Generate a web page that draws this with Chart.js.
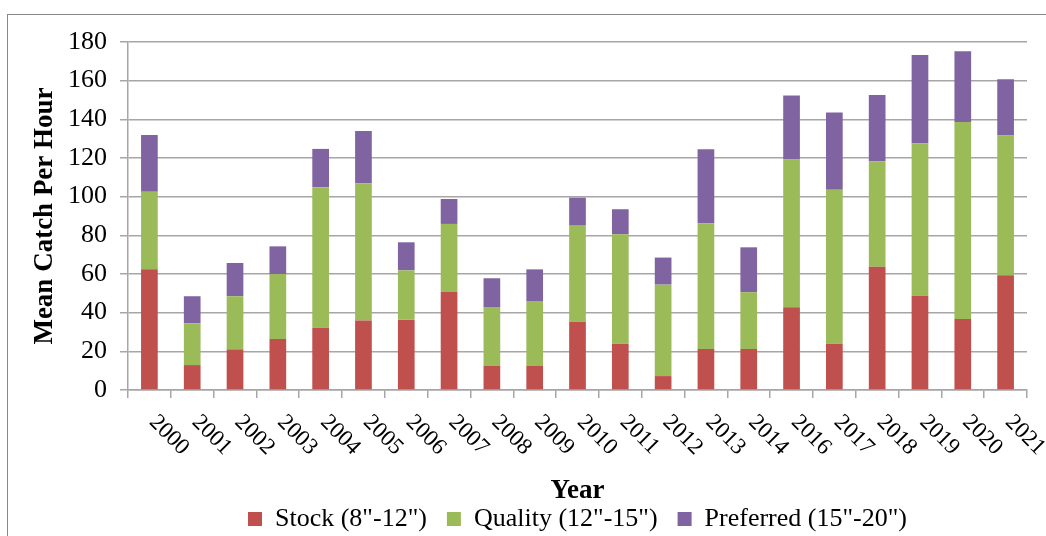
<!DOCTYPE html>
<html>
<head>
<meta charset="utf-8">
<script src="https://cdn.jsdelivr.net/npm/chart.js@4.4.1/dist/chart.umd.min.js"></script>
<style>
  body { margin: 0; background: #fff; }
  #wrap { position: relative; width: 1046px; height: 536px; overflow: hidden; }
  #frame { position: absolute; left: 7px; top: 14px; width: 1100px; height: 600px; border: 1px solid #898989; }
  #myBarChart { position: absolute; left: 0; top: 0; }
</style>
</head>
<body>
<div id="wrap">
  <div id="frame"></div>
  <canvas id="myBarChart" width="1046" height="536"></canvas>
</div>
<script>
var years = ['2000','2001','2002','2003','2004','2005','2006','2007','2008','2009','2010',
             '2011','2012','2013','2014','2016','2017','2018','2019','2020','2021'];

// valores (captura por hora)
var stock = [62.4, 12.9, 21.0, 26.4, 32.2, 35.9, 36.4, 50.7, 12.4, 12.4, 35.3,
             24.0, 7.2, 21.2, 21.2, 42.8, 24.0, 63.8, 48.8, 36.7, 59.3];
var quality = [40.2, 21.6, 27.5, 33.6, 72.6, 71.0, 25.5, 35.2, 30.5, 33.6, 49.7,
               56.5, 47.3, 65.0, 29.3, 76.4, 79.6, 54.5, 78.8, 101.9, 72.4];
var preferred = [29.3, 14.0, 17.2, 14.3, 19.9, 27.1, 14.5, 12.9, 14.9, 16.4, 14.5,
                 13.0, 14.0, 38.3, 23.3, 33.1, 39.9, 34.3, 45.7, 36.6, 29.0];

var seriesNames = ['Stock (8"-12")', 'Quality (12"-15")', 'Preferred (15"-20")'];
var yTicks = [0, 20, 40, 60, 80, 100, 120, 140, 160, 180];

var fuente = 'Liberation Serif';
var gris = '#a6a6a6';

// etiquetas del eje X giradas 45 grados hacia abajo
var yearLabels = {
  id: 'yearLabels',
  afterDraw: function (chart) {
    var ctx = chart.ctx;
    var xs = chart.scales.x;
    ctx.save();
    ctx.font = '23px "' + fuente + '"';
    ctx.fillStyle = '#000';
    ctx.textAlign = 'left';
    ctx.textBaseline = 'alphabetic';
    years.forEach(function (y, i) {
      var x = xs.getPixelForValue(i);
      ctx.save();
      ctx.translate(x - 1, xs.top + 33);
      ctx.rotate(Math.PI / 4);
      ctx.fillText(y, 0, 0);
      ctx.restore();
    });
    ctx.restore();
  }
};

var ctx = document.getElementById('myBarChart').getContext('2d');
var myBarChart = new Chart(ctx, {
  type: 'bar',
  data: {
    labels: years,
    datasets: [
      { label: seriesNames[0], data: stock, backgroundColor: '#c0504d' },
      { label: seriesNames[1], data: quality, backgroundColor: '#9bbb59' },
      { label: seriesNames[2], data: preferred, backgroundColor: '#8064a2' }
    ]
  },
  options: {
    responsive: false,
    animation: false,
    layout: { padding: { left: 0, right: 19, top: 42, bottom: -6 } },
    datasets: { bar: { categoryPercentage: 1, barPercentage: 0.39 } },
    plugins: {
      legend: {
        position: 'bottom',
        fullSize: false,
        labels: {
          font: { family: fuente, size: 26 },
          color: '#000',
          boxWidth: 14,
          boxHeight: 14,
          padding: 20
        }
      },
      tooltip: { enabled: false }
    },
    scales: {
      x: {
        stacked: true,
        grid: { display: true, drawOnChartArea: false, color: gris, lineWidth: 1.5, tickLength: 8, offset: true },
        border: { color: gris, width: 1.5 },
        ticks: { display: false },
        title: {
          display: true, text: 'Year', color: '#000',
          font: { family: fuente, size: 27, weight: 'bold' },
          padding: { top: 0, bottom: -21 }
        },
        afterFit: function (s) { s.height = 96; }
      },
      y: {
        stacked: true,
        min: 0,
        max: 180,
        afterBuildTicks: function (s) { s.ticks = yTicks.map(function (v) { return { value: v }; }); },
        grid: { color: gris, lineWidth: 1.5, tickLength: 8 },
        border: { color: gris, width: 1.5 },
        ticks: { color: '#000', font: { family: fuente, size: 26 }, padding: 13 },
        title: {
          display: true, text: 'Mean Catch Per Hour', color: '#000',
          font: { family: fuente, size: 27, weight: 'bold' },
          padding: { top: 29, bottom: 0 }
        },
        afterFit: function (s) { s.width = 128; }
      }
    }
  },
  plugins: [yearLabels]
});
</script>
</body>
</html>
